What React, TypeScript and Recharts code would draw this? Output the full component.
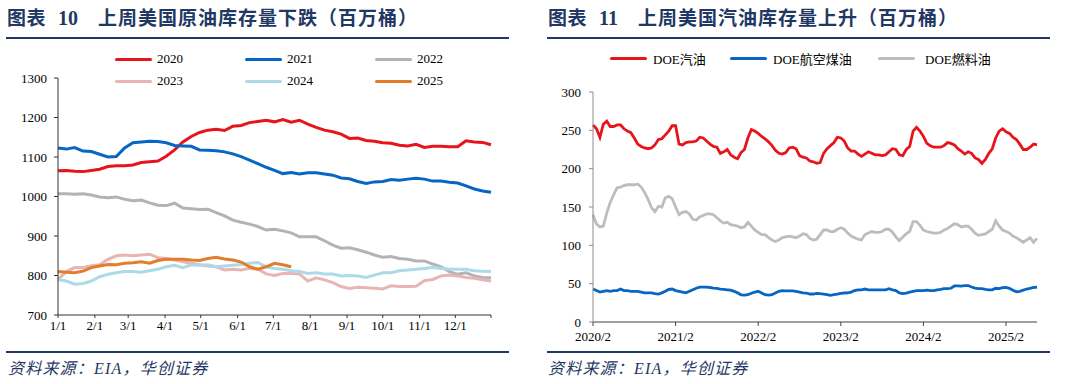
import { Legend, Line, LineChart, XAxis, YAxis } from "recharts";

// ---- 图表10: 美国原油库存（百万桶），按周，1/1 起 ----
const crude2020 = [
  1065, 1066, 1064, 1063, 1066, 1069, 1076, 1078, 1078, 1080,
  1086, 1088, 1090, 1102, 1118, 1138, 1152, 1162, 1168, 1170,
  1167, 1178, 1180, 1187, 1190, 1193, 1189, 1195, 1188, 1193,
  1183, 1175, 1168, 1164, 1158, 1147, 1148, 1142, 1140, 1136,
  1135, 1130, 1128, 1132, 1124, 1127, 1127, 1126, 1126, 1141,
  1138, 1137, 1131,
];
const crude2021 = [
  1123, 1120, 1124, 1115, 1114, 1107, 1100, 1101, 1123, 1136,
  1138, 1140, 1139, 1136, 1129, 1128, 1127, 1118, 1117, 1116,
  1113, 1108, 1101, 1092, 1083, 1074, 1066, 1058, 1061, 1057,
  1060, 1060, 1057, 1054, 1047, 1045, 1038, 1033, 1037, 1038,
  1043, 1041, 1044, 1046, 1044, 1039, 1039, 1036, 1034, 1027,
  1019, 1014, 1011,
];
const crude2022 = [
  1007, 1007, 1006, 1007, 1004, 999, 997, 999, 993, 989,
  991, 984, 978, 977, 983, 971, 969, 967, 968, 959,
  951, 940, 935, 930, 924, 915, 917, 913, 908, 898,
  898, 898, 888, 877, 869, 870, 865, 859, 852, 846,
  848, 843, 841, 837, 837, 829, 822, 810, 803, 807,
  799, 795, 794,
];
const crude2023 = [
  790, 810, 820, 820, 825, 827, 841, 850, 852, 850,
  852, 854, 845, 843, 839, 835, 831, 827, 824, 822,
  814, 816, 814, 818, 816, 804, 800, 805, 805, 804,
  786, 794, 789, 782, 772, 767, 770, 769, 768, 766,
  774, 772, 772, 773, 787, 790, 799, 801, 799, 795,
  793, 789, 786,
];
const crude2024 = [
  789, 786, 778, 780, 786, 797, 803, 807, 810, 810,
  808, 812, 816, 822, 826, 820, 827, 826, 827, 822,
  824, 826, 828, 831, 833, 822, 818, 816, 812, 810,
  805, 807, 804, 804, 799, 800, 799, 795, 801, 807,
  807, 812, 814, 816, 818, 820, 818, 816, 816, 816,
  812, 811, 810,
];
const crude2025 = [
  810, 808, 807, 811, 820, 824, 828, 827, 831, 832,
  835, 831, 838, 841, 841, 841, 839, 838, 843, 846,
  842, 839, 834, 822, 816, 822, 831, 827, 822,
];

const monthTicks = [0, 31, 59, 90, 120, 151, 181, 212, 243, 273, 304, 334, 364];
const monthLabels = ["1/1", "2/1", "3/1", "4/1", "5/1", "6/1", "7/1", "8/1", "9/1", "10/1", "11/1", "12/1", ""];
const crudeTicks = [700, 800, 900, 1000, 1100, 1200, 1300];

// ---- 图表11: 汽油/航空煤油/燃料油库存，半月取样，2020/2 起 ----
const gasoline = [
  257, 252, 241, 258, 262, 255, 255, 257, 257, 252,
  249, 247, 240, 232, 229, 227, 226, 227, 231, 238,
  239, 244, 249, 256, 256, 232, 231, 234, 235, 235,
  236, 241, 240, 236, 232, 229, 228, 220, 222, 225,
  218, 215, 213, 221, 225, 240, 251, 249, 246, 242,
  239, 235, 230, 224, 220, 219, 221, 227, 228, 226,
  217, 215, 214, 210, 209, 207, 208, 220, 226, 230,
  234, 241, 240, 236, 227, 223, 223, 219, 216, 219,
  222, 220, 218, 218, 217, 218, 222, 226, 225, 218,
  217, 225, 229, 249, 254, 249, 242, 233, 230, 228,
  228, 228, 230, 234, 233, 231, 226, 223, 219, 222,
  220, 214, 212, 207, 212, 220, 226, 240, 249, 252,
  248, 246, 241, 238, 232, 225, 225, 228, 232, 231,
];
const jetFuel = [
  43, 41, 39, 40, 41, 40, 41, 41, 43, 41,
  41, 40, 40, 40, 39, 38, 38, 38, 37, 36.5,
  38, 40, 42.5, 43, 41, 40, 39, 38, 40, 42,
  44, 45.5, 45.5, 45.5, 45, 44.3, 44, 43, 42.5, 42,
  41.5, 40, 38, 35.5, 35, 35.6, 37.5, 39, 40, 37.8,
  35.6, 35, 35.6, 37.8, 40, 41, 40.5, 40.5, 40.5, 40,
  39, 38, 37.8, 36.5, 36.5, 37.4, 37, 36.5, 35.6, 34.8,
  35.6, 36.5, 37.4, 37.8, 38, 39, 41, 42, 42, 43,
  42, 42, 42, 42, 42, 42, 43.5, 42, 41, 38,
  37, 37.8, 39, 40, 41, 41, 41, 41.5, 41, 41,
  42, 42.5, 43.5, 43.5, 44, 47, 47.2, 46.8, 47.4, 47.5,
  45.6, 44.3, 43.5, 43.5, 42.6, 42, 42, 44, 43.5, 44.8,
  45, 44, 41.5, 39.5, 40, 41.5, 43, 44, 45, 45.5,
];
const fuelOil = [
  140, 128, 124, 125, 142, 156, 166, 175, 176, 178,
  179, 179, 179, 180, 176, 169, 160, 149, 144, 151,
  150, 162, 164, 161, 150, 140, 143, 144, 141, 134,
  133, 137, 139, 141, 141, 140, 136, 132, 129, 130,
  127, 126, 125, 123, 124, 130, 125, 120, 117, 114,
  114, 110, 107, 105, 107, 110, 111, 112, 111, 110,
  112, 115, 114, 109, 107, 108, 114, 120, 120, 118,
  118, 121, 123, 121, 116, 112, 110, 108, 107, 114,
  116, 118, 117, 117, 118, 121, 121, 117, 111, 106,
  111, 115, 118, 131, 131, 126, 120, 118, 117, 116,
  116, 117, 120, 122, 125, 128, 127, 124, 125, 125,
  121, 116, 113, 114, 115, 118, 121, 132, 125, 120,
  118, 116, 112, 110, 107, 104, 107, 110, 104, 109,
];

const yearTicks = [0, 12, 24, 36, 48, 60];
const stockTicks = [0, 50, 100, 150, 200, 250, 300];

const NAVY = "#1f3864";
const SERIF = '"Liberation Serif", "Noto Sans CJK SC", serif';

const crudeYears = [
  { key: "y2020", name: "2020", color: "#e8141c", data: crude2020 },
  { key: "y2021", name: "2021", color: "#0766c4", data: crude2021 },
  { key: "y2022", name: "2022", color: "#b3b3b3", data: crude2022 },
  { key: "y2023", name: "2023", color: "#e9b4b4", data: crude2023 },
  { key: "y2024", name: "2024", color: "#acdae8", data: crude2024 },
  { key: "y2025", name: "2025", color: "#e27d2c", data: crude2025 },
];

const stockSeries = [
  { key: "gasoline", name: "DOE汽油", color: "#e8141c", data: gasoline },
  { key: "jet", name: "DOE航空煤油", color: "#0766c4", data: jetFuel },
  { key: "fuel", name: "DOE燃料油", color: "#bdbdbd", data: fuelOil },
];

const crudeRows = crude2020.map((_, i) => {
  const row: Record<string, number | undefined> = { day: i * 7 };
  crudeYears.forEach((s) => {
    row[s.key] = s.data[i];
  });
  return row;
});

const stockRows = gasoline.map((_, i) => ({
  m: i / 2,
  gasoline: gasoline[i],
  jet: jetFuel[i],
  fuel: fuelOil[i],
}));

const tickStyle = { fontFamily: SERIF, fontSize: 13, fill: "#000" };

type LegendItem = { name: string; color: string };

const LegendRow = ({ items, cols, textGap }: { items: LegendItem[]; cols: number[]; textGap: number[] }) => (
  <div style={{ position: "relative", width: 420, height: 44, fontFamily: SERIF, fontSize: 13, color: "#000" }}>
    {items.map((item, i) => {
      const col = i % cols.length;
      const row = Math.floor(i / cols.length);
      return (
        <div key={item.name} style={{ position: "absolute", left: cols[col], top: row * 22, height: 22, display: "flex", alignItems: "center" }}>
          <span style={{ display: "inline-block", width: 37, height: 3, borderRadius: 2, background: item.color }} />
          <span style={{ marginLeft: textGap[col], whiteSpace: "nowrap" }}>{item.name}</span>
        </div>
      );
    })}
  </div>
);

const Title = ({ left, num, text }: { left: number; num: string; text: string }) => (
  <div style={{ position: "absolute", left, top: 5, height: 24, lineHeight: "24px", color: NAVY, fontWeight: 700, fontSize: 19, whiteSpace: "nowrap" }}>
    <span style={{ fontFamily: '"Noto Sans CJK SC"', letterSpacing: 0.5 }}>图表</span>
    <span style={{ fontFamily: '"Liberation Serif"', marginLeft: 12, fontSize: 20 }}>{num}</span>
    <span style={{ fontFamily: '"Noto Sans CJK SC"', letterSpacing: 1, marginLeft: 20 }}>{text}</span>
  </div>
);

const Rule = ({ left, top }: { left: number; top: number }) => (
  <div style={{ position: "absolute", left, top, width: 503, height: 2, background: NAVY }} />
);

const Source = ({ left }: { left: number }) => (
  <div style={{ position: "absolute", left, top: 358, lineHeight: "22px", fontFamily: SERIF, fontSize: 16, letterSpacing: 1.2, fontStyle: "italic", color: NAVY, whiteSpace: "nowrap" }}>
    资料来源：EIA，华创证券
  </div>
);

export default function App() {
  return (
    <div style={{ position: "absolute", left: 0, top: 0, width: 1066, height: 384, background: "#fff", overflow: "hidden" }}>
      <Title left={7} num="10" text="上周美国原油库存量下跌（百万桶）" />
      <Title left={548} num="11" text="上周美国汽油库存量上升（百万桶）" />
      <Rule left={6} top={37} />
      <Rule left={547} top={37} />

      <div style={{ position: "absolute", left: 0, top: 40 }}>
        <LineChart width={520} height={310} data={crudeRows} margin={{ top: 38, right: 29, bottom: 5, left: 0 }}>
          <XAxis
            type="number"
            dataKey="day"
            domain={[0, 364]}
            ticks={monthTicks}
            interval={0}
            tickFormatter={(v: number) => monthLabels[monthTicks.indexOf(v)] ?? ""}
            tick={tickStyle}
            tickSize={3}
            tickMargin={3}
            height={30}
            stroke="#333"
          />
          <YAxis
            type="number"
            domain={[700, 1300]}
            ticks={crudeTicks}
            interval={0}
            tick={tickStyle}
            tickSize={4}
            tickMargin={7}
            width={58}
            stroke="#333"
          />
          <Legend
            layout="vertical"
            align="center"
            verticalAlign="middle"
            wrapperStyle={{ left: 115, top: 8, width: 420, height: 44 }}
            content={() => <LegendRow items={crudeYears} cols={[0, 130, 260]} textGap={[5, 5, 5]} />}
          />
          {crudeYears.map((s) => (
            <Line
              key={s.key}
              dataKey={s.key}
              name={s.name}
              stroke={s.color}
              strokeWidth={3}
              dot={false}
              isAnimationActive={false}
            />
          ))}
        </LineChart>
      </div>

      <div style={{ position: "absolute", left: 533, top: 40 }}>
        <LineChart width={520} height={310} data={stockRows} margin={{ top: 52, right: 16, bottom: 4, left: 0 }}>
          <XAxis
            type="number"
            dataKey="m"
            domain={[0, 64.5]}
            ticks={yearTicks}
            interval={0}
            tickFormatter={(v: number) => `${2020 + v / 12}/2`}
            tick={tickStyle}
            tickSize={4}
            tickMargin={6}
            height={24}
            stroke="#404040"
          />
          <YAxis
            type="number"
            domain={[0, 300]}
            ticks={stockTicks}
            interval={0}
            tick={tickStyle}
            tickSize={4}
            tickMargin={8}
            width={60}
            stroke="#8c8c8c"
          />
          <Legend
            layout="vertical"
            align="center"
            verticalAlign="middle"
            wrapperStyle={{ left: 77, top: 7, width: 420, height: 44 }}
            content={() => <LegendRow items={stockSeries} cols={[0, 120, 268]} textGap={[6, 6, 10]} />}
          />
          {stockSeries.map((s) => (
            <Line
              key={s.key}
              dataKey={s.key}
              name={s.name}
              stroke={s.color}
              strokeWidth={2.8}
              dot={false}
              isAnimationActive={false}
            />
          ))}
        </LineChart>
      </div>

      <Rule left={6} top={351} />
      <Rule left={547} top={351} />
      <Source left={8} />
      <Source left={548} />
    </div>
  );
}
